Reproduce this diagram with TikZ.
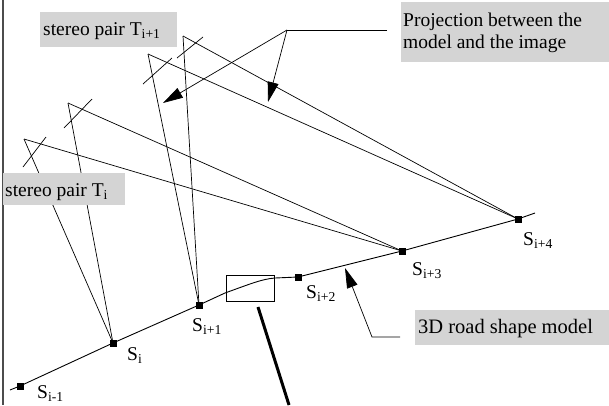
\documentclass[tikz,border=0pt]{standalone}
\usepackage{fontspec}
\setmainfont{Liberation Serif}
\usetikzlibrary{arrows.meta}
\begin{document}
\begin{tikzpicture}[x=1pt,y=-1pt,
  ray/.style={line width=0.7pt},
  road/.style={line width=0.9pt},
  sq/.style={fill=black, minimum size=7pt, inner sep=0pt, draw=none},
  lbl/.style={font=\fontsize{19.5}{22}\selectfont, inner sep=0pt, anchor=base west},
  bg/.style={fill=black!17},
  arr/.style={line width=0.7pt, -{Triangle[length=20pt,width=11pt]}},
]
\useasboundingbox (0,0) rectangle (609,405);
% left border
\draw[line width=1.5pt, black!70] (3,0) -- (3,405);

% detail box and its pointer
\node[draw, line width=0.7pt, minimum width=48pt, minimum height=26pt, inner sep=0pt] (box) at (250,288) {};
\coordinate (t1) at (258,307);
\coordinate (t2) at (289,405);
\draw[line width=3pt] (t1) -- (t2);

% road points
\coordinate (rs) at (10,390);
\coordinate (re) at (535,213);
\node[sq] (s0) at (20,386) {};
\node[sq] (s1) at (113,343) {};
\node[sq] (s2) at (199,305) {};
\node[sq] (s3) at (298,277) {};
\node[sq] (s4) at (402,251) {};
\node[sq] (s5) at (518,219) {};
\coordinate (b1) at (225,293);
\coordinate (b2) at (275,278);
\draw[road] (rs) -- (s0.center) -- (s1.center) -- (s2.center) -- (b1)
  .. controls (250,284) and (262,279) .. (b2) -- (s3.center) -- (s4.center) -- (s5.center) -- (re);
\foreach \n in {s0,s1,s2,s3,s4,s5} \node[sq] at (\n) {};

% cameras
\coordinate (c1) at (24,139);
\coordinate (c2) at (68,103);
\coordinate (c3) at (148,54);
\coordinate (c4) at (183,36);
\draw[ray] (23,167) -- (46,137);
\draw[ray] (64,128) -- (92,99);
\draw[ray] (143,84) -- (172,58);
\draw[ray] (177,58) -- (203,37);
\draw[ray] (c1) -- (s1.center);
\draw[ray] (c1) -- (s4.center);
\draw[ray] (c2) -- (s1.center);
\draw[ray] (c2) -- (s4.center);
\draw[ray] (c3) -- (s2.center);
\draw[ray] (c3) -- (s5.center);
\draw[ray] (c4) -- (s2.center);
\draw[ray] (c4) -- (s5.center);

% projection arrows
\coordinate (pa) at (387,30);
\coordinate (pb) at (287,30);
\coordinate (q1) at (163,103);
\coordinate (q2) at (268,102);
\draw[ray] (pa) -- (pb);
\draw[arr] (pb) -- (q1);
\draw[arr] (pb) -- (q2);

% road model arrow
\coordinate (ra) at (400,337);
\coordinate (rb) at (372,337);
\coordinate (rc) at (345,268);
\draw[arr] (ra) -- (rb) -- (rc);

% grey label backgrounds (on top of the rays)
\fill[bg] (40,12) rectangle (177,47);
\fill[bg] (3,173) rectangle (125,205);
\fill[bg] (401,2) rectangle (609,62);
\fill[bg] (415,310) rectangle (609,345);

% labels
\node[lbl] (l0) at (37,398) {S\textsubscript{i-1}};
\node[lbl] (l1) at (127,360) {S\textsubscript{i}};
\node[lbl] (l2) at (192,331) {S\textsubscript{i+1}};
\node[lbl] (l3) at (306,298) {S\textsubscript{i+2}};
\node[lbl] (l4) at (412,275) {S\textsubscript{i+3}};
\node[lbl] (l5) at (523,245) {S\textsubscript{i+4}};
\node[lbl] (tp1) at (43,35) {stereo pair T\textsubscript{i+1}};
\node[lbl] (tp0) at (5,196) {stereo pair T\textsubscript{i}};
\node[lbl] (pr1) at (403,26) {Projection between the};
\node[lbl] (pr2) at (403,48) {model and the image};
\node[lbl, font=\fontsize{20.5}{22}\selectfont] (rd) at (418,333) {3D road shape model};
\end{tikzpicture}
\end{document}
